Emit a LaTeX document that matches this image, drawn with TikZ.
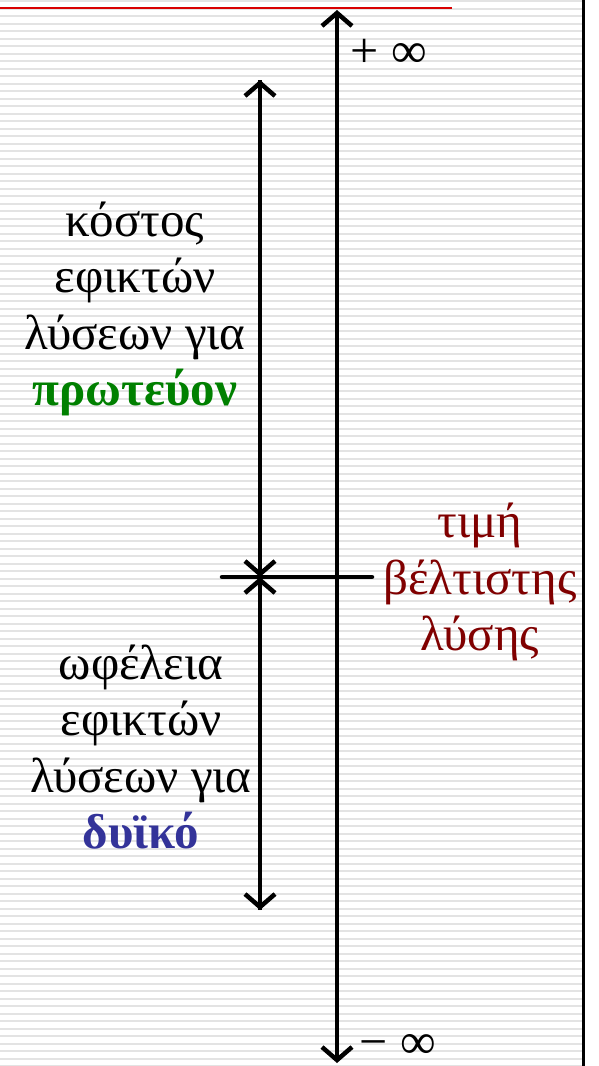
\documentclass[tikz,border=0pt]{standalone}
\usepackage{fontspec}
\setmainfont{Liberation Serif}
\usetikzlibrary{arrows.meta}
\definecolor{primalgreen}{HTML}{008000}
\definecolor{dualblue}{HTML}{333399}
\definecolor{optred}{HTML}{800000}
\definecolor{stripe}{HTML}{E3E3E3}

\begin{document}
\begin{tikzpicture}[x=1pt, y=-1pt,
  axis/.style={line width=4.5pt, {Straight Barb[length=13pt,width=30pt,line width=4.5pt]}-{Straight Barb[length=13pt,width=30pt,line width=4.5pt]}},
  darr/.style={line width=4.5pt, -{Straight Barb[length=13pt,width=30pt,line width=4.5pt]}},
  txt/.style={align=center, inner sep=0pt, font=\fontsize{49}{56.5}\selectfont},
  inf/.style={inner sep=0pt, anchor=base, font=\fontsize{50}{50}\selectfont},
]
\useasboundingbox (0,0) rectangle (598,1066);
\fill[white] (0,0) rectangle (598,1066);

% ---- background stripes ----
\foreach \y in {1,8.5,...,1066}
  \draw[stripe, line width=2pt] (0,\y) -- (582,\y);
\draw[line width=3pt] (583.5,0) -- (583.5,1066);
\draw[red!85!black, line width=2pt] (0,7.5) -- (452,7.5);

% ---- value axis ----
\coordinate (top) at (337,10);
\coordinate (bot) at (337,1063);
\draw[axis] (bot) -- (top);
\node[inf] (pinf) at (389,67) {+ ∞};
\node[inf] (minf) at (398,1058) {− ∞};

% ---- optimum ----
\coordinate (opt) at (260,577);
\coordinate (hl) at (222,577);
\coordinate (hr) at (372,577);
\coordinate (ptop) at (260,80);
\coordinate (dbot) at (260,910);
\draw[line width=4.5pt, line cap=round] (hl) -- (hr);
\draw[darr] (opt) -- (ptop);
\draw[darr] (ptop) -- (opt);
\draw[darr] (opt) -- (dbot);
\draw[darr] (dbot) -- (opt);

% ---- labels ----
\node[txt] (primal) at (135,309)
  {κόστος\\εφικτών\\λύσεων για\\\textcolor{primalgreen}{\textbf{πρωτεύον}}};
\node[txt] (dual) at (141,747)
  {ωφέλεια\\εφικτών\\λύσεων για\\\textcolor{dualblue}{\textbf{δυϊκό}}};
\node[txt, text=optred] (value) at (480,582)
  {τιμή\\βέλτιστης\\λύσης};

\end{tikzpicture}
\end{document}
